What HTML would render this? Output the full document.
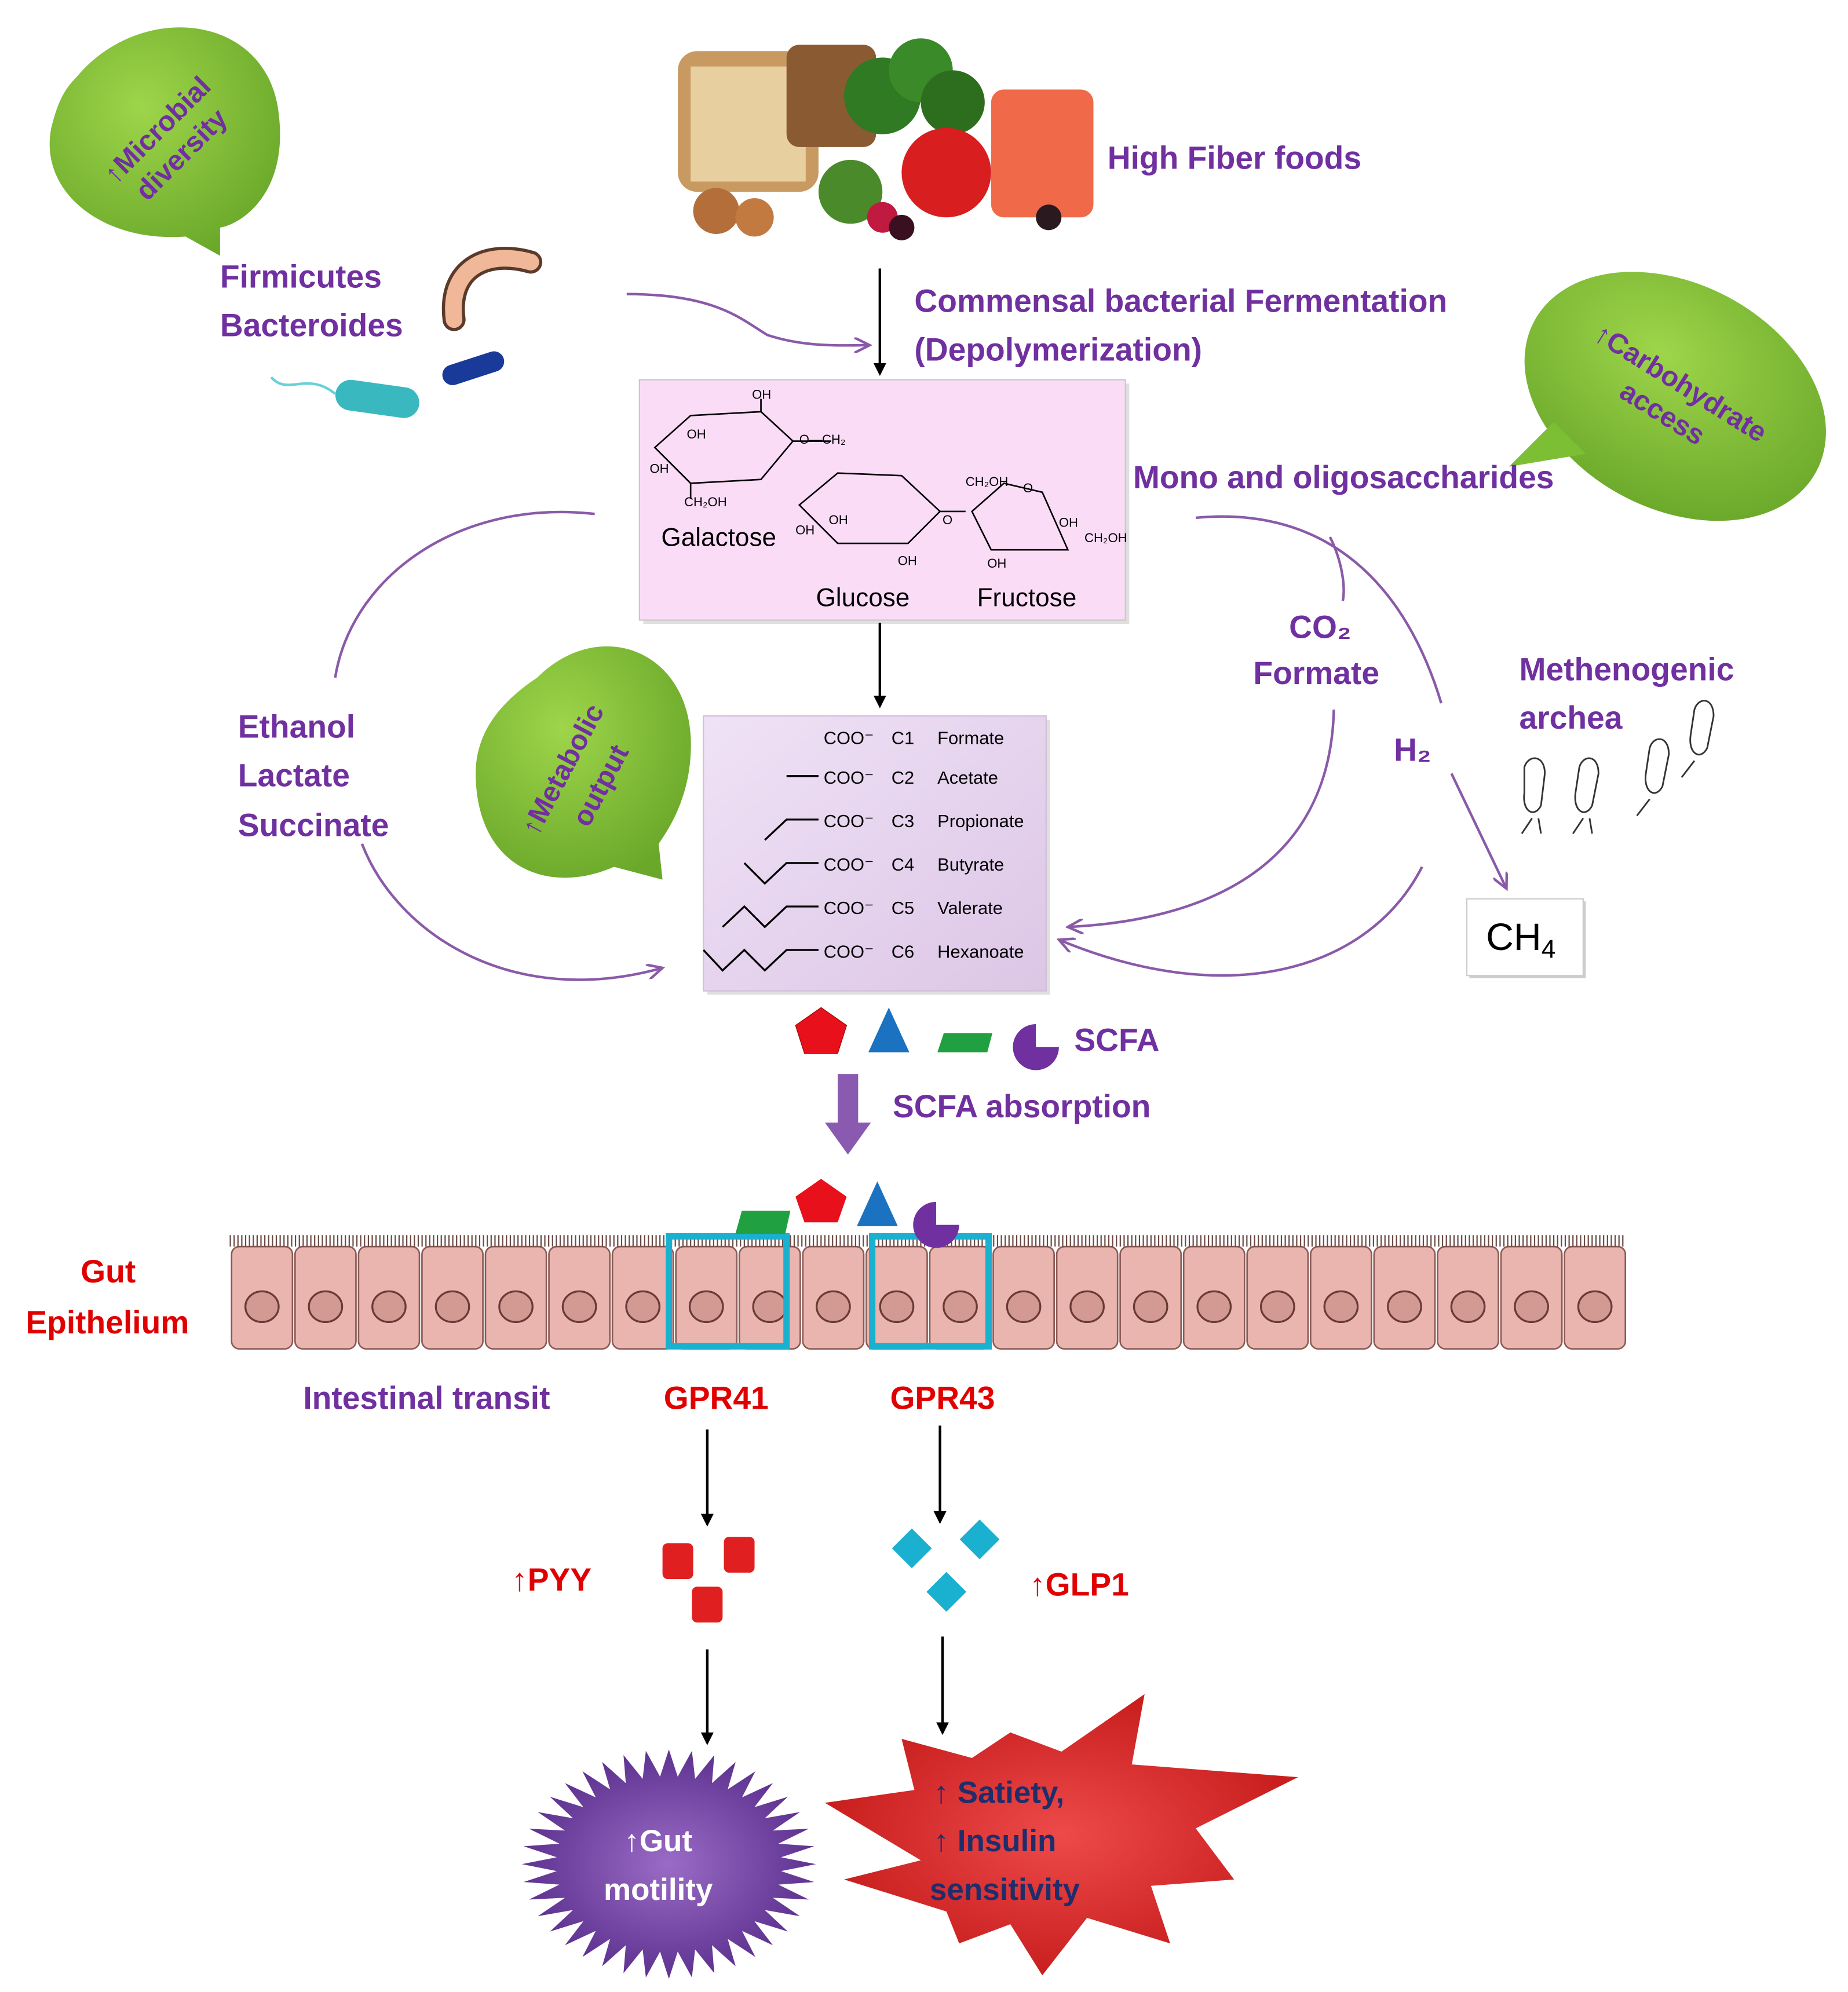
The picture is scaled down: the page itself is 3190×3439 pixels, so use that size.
<!DOCTYPE html>
<html><head><meta charset="utf-8"><style>
html,body{margin:0;padding:0;background:#fff}
svg{display:block}
.p{fill:#7030a0;font-family:"Liberation Sans",sans-serif;font-weight:bold;font-size:25px}
.r{fill:#e00000;font-family:"Liberation Sans",sans-serif;font-weight:bold;font-size:25px}
.s{font-family:"Liberation Sans",sans-serif;font-size:14px;fill:#000}
.w{font-family:"Liberation Sans",sans-serif;font-weight:bold;font-size:24px}
</style></head><body>
<svg id="sv" width="3190" height="3439" viewBox="0 0 1445 1558" xmlns="http://www.w3.org/2000/svg">
<defs>
<marker id="ab" markerWidth="10" markerHeight="10" refX="8" refY="5" orient="auto" markerUnits="userSpaceOnUse"><path d="M0,0 L10,5 L0,10 z" fill="#000"/></marker>
<marker id="ap" markerWidth="14" markerHeight="12" refX="12" refY="6" orient="auto" markerUnits="userSpaceOnUse"><path d="M0,0 L12,6 L0,12" fill="none" stroke="#8a5aa8" stroke-width="2"/></marker>
<radialGradient id="gg" cx="40%" cy="35%" r="70%"><stop offset="0" stop-color="#9ed54a"/><stop offset="1" stop-color="#6aa82a"/></radialGradient>
<linearGradient id="lv" x1="0" y1="0" x2="1" y2="1"><stop offset="0" stop-color="#f0e2f6"/><stop offset="1" stop-color="#dcc6e6"/></linearGradient>
<radialGradient id="ps" cx="50%" cy="50%" r="50%"><stop offset="0" stop-color="#9a6cc6"/><stop offset="1" stop-color="#5e3290"/></radialGradient>
<radialGradient id="rs" cx="50%" cy="50%" r="50%"><stop offset="0" stop-color="#ee4a4a"/><stop offset="1" stop-color="#c81e1e"/></radialGradient>
</defs>

<!-- Green bubble top-left -->
<path d="M60,60 C110,0 210,10 218,90 C225,150 190,175 172,178 L172,200 L145,185 C80,190 30,150 40,100 C45,80 50,70 60,60 z" fill="url(#gg)"/>
<text class="p" transform="translate(90,145) rotate(-45)" style="font-size:22px">↑Microbial</text>
<text class="p" transform="translate(115,158) rotate(-45)" style="font-size:22px">diversity</text>

<!-- Food -->
<g>
<rect x="530" y="40" width="110" height="110" rx="15" fill="#c89a62"/>
<rect x="540" y="52" width="90" height="90" fill="#e8cfa0"/>
<rect x="615" y="35" width="70" height="80" rx="10" fill="#8a5a32"/>
<circle cx="690" cy="75" r="30" fill="#2f7a22"/><circle cx="720" cy="55" r="25" fill="#3a8a2a"/><circle cx="745" cy="80" r="25" fill="#2d6e1e"/>
<rect x="775" y="70" width="80" height="100" rx="10" fill="#f06a4a"/>
<circle cx="740" cy="135" r="35" fill="#d81e1e"/>
<circle cx="665" cy="150" r="25" fill="#4a8a2a"/>
<circle cx="560" cy="165" r="18" fill="#b46e3a"/><circle cx="590" cy="170" r="15" fill="#c27a40"/>
<circle cx="690" cy="170" r="12" fill="#c01a40"/><circle cx="705" cy="178" r="10" fill="#3a1020"/><circle cx="820" cy="170" r="10" fill="#2a1a20"/>
</g>
<text class="p" x="866" y="132">High Fiber foods</text>

<text class="p" x="172" y="225">Firmicutes</text>
<text class="p" x="172" y="263">Bacteroides</text>
<!-- bacteria -->
<path d="M355,250 C350,210 380,195 415,205" stroke="#5a3a2a" stroke-width="18" fill="none" stroke-linecap="round"/>
<path d="M355,250 C350,210 380,195 415,205" stroke="#f0b898" stroke-width="13" fill="none" stroke-linecap="round"/>
<rect x="262" y="300" width="66" height="24" rx="12" fill="#3ab8c0" transform="rotate(8 295 312)"/>
<path d="M262,308 C240,290 225,310 212,295" stroke="#6ad0d8" stroke-width="2" fill="none"/>
<rect x="345" y="280" width="50" height="16" rx="8" fill="#1a3a9a" transform="rotate(-18 370 288)"/>

<!-- arrows top -->
<line x1="688" y1="210" x2="688" y2="292" stroke="#000" stroke-width="2" marker-end="url(#ab)"/>
<path d="M490,230 C560,230 580,250 600,262 C630,272 660,270 680,270" stroke="#8a5aa8" stroke-width="2" fill="none" marker-end="url(#ap)"/>
<text class="p" x="715" y="244">Commensal bacterial Fermentation</text>
<text class="p" x="715" y="282">(Depolymerization)</text>

<!-- right green bubble -->
<g transform="rotate(28 1310 310)">
<ellipse cx="1310" cy="310" rx="125" ry="88" fill="url(#gg)"/>
</g>
<path d="M1215,330 L1180,365 L1240,355 z" fill="#7cbf34"/>
<text class="p" transform="translate(1245,265) rotate(32)" style="font-size:22px">↑Carbohydrate</text>
<text class="p" transform="translate(1265,310) rotate(32)" style="font-size:22px">access</text>

<!-- pink box -->
<rect x="503" y="300" width="380" height="188" fill="#b0b0b0" opacity="0.4"/>
<rect x="500" y="297" width="380" height="188" fill="#fbdcf7" stroke="#c8c8c8"/>
<g stroke="#000" stroke-width="1.2" fill="none">
<path d="M512,350 L540,325 L595,322 L620,345 L595,375 L540,378 z"/>
<path d="M595,322 L595,312 M620,345 L650,345 M540,378 L540,390"/>
<path d="M625,395 L655,370 L705,372 L735,400 L710,425 L655,425 z"/>
<path d="M735,400 L755,400"/>
<path d="M760,400 L785,378 L815,385 L835,430 L775,430 z"/>
</g>
<g class="s" style="font-size:10px">
<text x="588" y="312">OH</text><text x="537" y="343">OH</text><text x="508" y="370">OH</text><text x="535" y="396">CH₂OH</text><text x="625" y="347">O—CH₂</text>
<text x="648" y="410">OH</text><text x="622" y="418">OH</text><text x="702" y="442">OH</text><text x="737" y="410">O</text>
<text x="755" y="380">CH₂OH</text><text x="800" y="385">O</text><text x="828" y="412">OH</text><text x="848" y="424">CH₂OH</text><text x="772" y="444">OH</text>
</g>
<text class="s" x="517" y="427" style="font-size:20px">Galactose</text>
<text class="s" x="638" y="474" style="font-size:20px">Glucose</text>
<text class="s" x="764" y="474" style="font-size:20px">Fructose</text>
<text class="p" x="886" y="382">Mono and oligosaccharides</text>

<line x1="688" y1="487" x2="688" y2="552" stroke="#000" stroke-width="2" marker-end="url(#ab)"/>

<!-- SCFA box -->
<rect x="553" y="563" width="268" height="215" fill="#b0b0b0" opacity="0.4"/>
<rect x="550" y="560" width="268" height="215" fill="url(#lv)" stroke="#d0c0d8"/>
<g class="s">
<text x="644" y="582">COO⁻</text><text x="697" y="582">C1</text><text x="733" y="582">Formate</text>
<text x="644" y="613">COO⁻</text><text x="697" y="613">C2</text><text x="733" y="613">Acetate</text>
<text x="644" y="647">COO⁻</text><text x="697" y="647">C3</text><text x="733" y="647">Propionate</text>
<text x="644" y="681">COO⁻</text><text x="697" y="681">C4</text><text x="733" y="681">Butyrate</text>
<text x="644" y="715">COO⁻</text><text x="697" y="715">C5</text><text x="733" y="715">Valerate</text>
<text x="644" y="749">COO⁻</text><text x="697" y="749">C6</text><text x="733" y="749">Hexanoate</text>
</g>
<g stroke="#000" stroke-width="1.5" fill="none">
<path d="M615,607 L640,607"/>
<path d="M598,657 L615,641 L640,641"/>
<path d="M582,675 L598,691 L615,675 L640,675"/>
<path d="M565,725 L582,709 L598,725 L615,709 L640,709"/>
<path d="M550,743 L565,759 L582,743 L598,759 L615,743 L640,743"/>
</g>

<!-- middle green bubble -->
<path d="M420,530 C470,480 545,510 540,590 C538,630 518,655 515,660 L518,688 L480,678 C430,700 375,680 372,610 C370,575 390,550 420,530 z" fill="url(#gg)"/>
<text class="p" transform="translate(420,655) rotate(-62)" style="font-size:22px">↑Metabolic</text>
<text class="p" transform="translate(460,648) rotate(-62)" style="font-size:22px">output</text>

<text class="p" x="186" y="577">Ethanol</text>
<text class="p" x="186" y="615">Lactate</text>
<text class="p" x="186" y="654">Succinate</text>
<path d="M465,402 C360,390 275,450 262,530" stroke="#8a5aa8" stroke-width="2" fill="none"/>
<path d="M283,660 C310,730 400,790 518,757" stroke="#8a5aa8" stroke-width="2" fill="none" marker-end="url(#ap)"/>

<path d="M935,405 C1040,395 1100,460 1127,550" stroke="#8a5aa8" stroke-width="2" fill="none"/>
<path d="M1040,420 C1050,440 1052,460 1050,470" stroke="#8a5aa8" stroke-width="2" fill="none"/>
<text class="p" x="1008" y="499">CO₂</text>
<text class="p" x="980" y="535">Formate</text>
<path d="M1043,555 C1040,680 940,720 835,725" stroke="#8a5aa8" stroke-width="2" fill="none" marker-end="url(#ap)"/>
<text class="p" x="1090" y="595">H₂</text>
<line x1="1135" y1="605" x2="1178" y2="695" stroke="#8a5aa8" stroke-width="2" marker-end="url(#ap)"/>
<path d="M1112,678 C1070,760 960,790 828,735" stroke="#8a5aa8" stroke-width="2" fill="none" marker-end="url(#ap)"/>
<text class="p" x="1188" y="532">Methenogenic</text>
<text class="p" x="1188" y="570">archea</text>
<g stroke="#333" stroke-width="1.3" fill="none">
<path d="M1192,600 C1195,590 1208,590 1208,605 L1205,630 C1200,640 1190,635 1192,620 z M1198,640 L1190,652 M1203,640 L1205,652"/>
<path d="M1235,600 C1238,590 1250,590 1250,605 L1245,630 C1240,640 1230,635 1232,620 z M1238,640 L1230,652 M1243,640 L1245,652"/>
<path d="M1290,585 C1293,575 1305,575 1305,590 L1300,615 C1295,625 1285,620 1287,605 z M1290,625 L1280,638"/>
<path d="M1325,555 C1328,545 1340,545 1340,560 L1335,585 C1330,595 1320,590 1322,575 z M1325,595 L1315,608"/>
</g>
<rect x="1149" y="705" width="91" height="60" fill="#ccc"/>
<rect x="1147" y="703" width="91" height="60" fill="#fff" stroke="#ccc"/>
<text x="1162" y="743" style="font-family:'Liberation Sans',sans-serif;font-size:30px">CH<tspan font-size="20" dy="6">4</tspan></text>

<!-- SCFA shapes -->
<polygon points="642,788 662,802 655,824 629,824 622,802" fill="#e8101a" stroke="#900" stroke-width="0.5"/>
<polygon points="695,788 711,823 679,823" fill="#1a72c0"/>
<polygon points="738,808 776,808 772,823 733,823" fill="#20a040"/>
<path d="M810,801 A18,18 0 1 0 828,819 L810,819 z" fill="#7030a0"/>
<text class="p" x="840" y="822">SCFA</text>
<rect x="655" y="840" width="16" height="40" fill="#8a5ab0"/>
<polygon points="645,878 681,878 663,903" fill="#8a5ab0"/>
<text class="p" x="698" y="874">SCFA absorption</text>

<!-- epithelium -->
<g id="epi"></g>
<rect x="523" y="967" width="92" height="86" fill="none" stroke="#1ab0d0" stroke-width="5"/>
<rect x="682" y="967" width="91" height="86" fill="none" stroke="#1ab0d0" stroke-width="5"/>
<polygon points="580,947 618,947 614,965 575,965" fill="#20a040"/>
<polygon points="642,922 662,936 655,956 629,956 622,936" fill="#e8101a"/>
<polygon points="686,924 702,959 670,959" fill="#1a72c0"/>
<path d="M732,940 A18,18 0 1 0 750,958 L732,958 z" fill="#7030a0"/>

<text class="r" x="63" y="1003">Gut</text>
<text class="r" x="20" y="1043">Epithelium</text>
<text class="p" x="237" y="1102">Intestinal transit</text>
<text class="r" x="519" y="1102">GPR41</text>
<text class="r" x="696" y="1102">GPR43</text>

<line x1="553" y1="1118" x2="553" y2="1192" stroke="#000" stroke-width="2" marker-end="url(#ab)"/>
<line x1="735" y1="1115" x2="735" y2="1190" stroke="#000" stroke-width="2" marker-end="url(#ab)"/>
<rect x="518" y="1207" width="24" height="28" rx="4" fill="#e02020"/>
<rect x="566" y="1202" width="24" height="28" rx="4" fill="#e02020"/>
<rect x="541" y="1241" width="24" height="28" rx="4" fill="#e02020"/>
<text class="r" x="400" y="1244">↑PYY</text>
<g fill="#1ab0d0">
<rect x="702" y="1200" width="22" height="22" transform="rotate(45 713 1211)"/>
<rect x="755" y="1193" width="22" height="22" transform="rotate(45 766 1204)"/>
<rect x="729" y="1234" width="22" height="22" transform="rotate(45 740 1245)"/>
</g>
<text class="r" x="805" y="1248">↑GLP1</text>
<line x1="553" y1="1290" x2="553" y2="1363" stroke="#000" stroke-width="2" marker-end="url(#ab)"/>
<line x1="737" y1="1280" x2="737" y2="1355" stroke="#000" stroke-width="2" marker-end="url(#ab)"/>

<polygon id="rst" fill="url(#rs)" points="705,1360 760,1375 790,1355 830,1370 895,1325 885,1380 1015,1390 935,1430 965,1470 900,1475 915,1520 850,1500 815,1545 790,1505 750,1520 740,1495 660,1470 720,1455 645,1410 715,1400"/>
<polygon id="pst" fill="url(#ps)"/>
<text class="w" x="488" y="1448" fill="#fff">↑Gut</text>
<text class="w" x="472" y="1486" fill="#fff">motility</text>
<text class="w" x="730" y="1410" fill="#1f2d6b">↑ Satiety,</text>
<text class="w" x="730" y="1448" fill="#1f2d6b">↑ Insulin</text>
<text class="w" x="727" y="1486" fill="#1f2d6b">sensitivity</text>
</svg>
<script>
(function(){
var ns="http://www.w3.org/2000/svg";
// starburst
var pts=[],cx=523,cy=1458,n=40;
for(var i=0;i<2*n;i++){var a=Math.PI*i/n;var r=(i%2==0)?115:88;pts.push((cx+r*Math.cos(a)).toFixed(1)+","+(cy+r*0.78*Math.sin(a)).toFixed(1));}
document.getElementById("pst").setAttribute("points",pts.join(" "));
// epithelium
var g=document.getElementById("epi");var x0=180,x1=1272,nC=22,w=(x1-x0)/nC;
for(var k=0;k<nC;k++){var x=x0+k*w;
var r=document.createElementNS(ns,"rect");r.setAttribute("x",x+1);r.setAttribute("y",975);r.setAttribute("width",w-2);r.setAttribute("height",80);r.setAttribute("rx",6);r.setAttribute("fill","#e9b5ae");r.setAttribute("stroke","#8a5a55");r.setAttribute("stroke-width","1.2");g.appendChild(r);
var c=document.createElementNS(ns,"ellipse");c.setAttribute("cx",x+w/2);c.setAttribute("cy",1022);c.setAttribute("rx",13);c.setAttribute("ry",12);c.setAttribute("fill","#d29a92");c.setAttribute("stroke","#6a3a35");c.setAttribute("stroke-width","1.5");g.appendChild(c);
}
var d="";for(var xx=x0;xx<x1;xx+=3){d+="M"+xx+",975 L"+xx+",966 ";}
var p=document.createElementNS(ns,"path");p.setAttribute("d",d);p.setAttribute("stroke","#6a4a45");p.setAttribute("stroke-width","1");g.appendChild(p);
})();
</script>
</body></html>
